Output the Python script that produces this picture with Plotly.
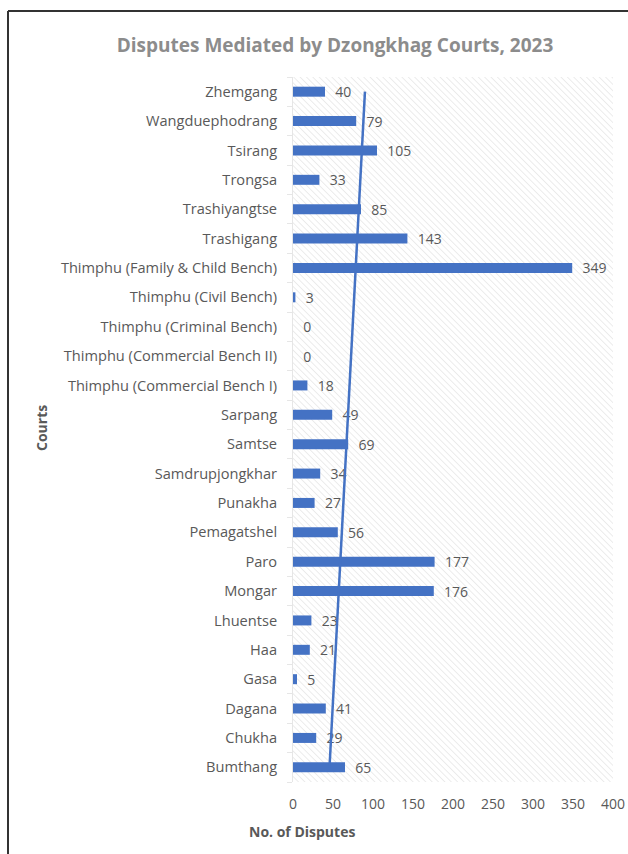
import base64
import numpy as np
import plotly.graph_objects as go

# Dzongkhag courts, listed bottom-to-top as they appear on the axis
courts = [
    "Bumthang", "Chukha", "Dagana", "Gasa", "Haa", "Lhuentse", "Mongar", "Paro",
    "Pemagatshel", "Punakha", "Samdrupjongkhar", "Samtse", "Sarpang",
    "Thimphu (Commercial Bench I)", "Thimphu (Commercial Bench II)",
    "Thimphu (Criminal Bench)", "Thimphu (Civil Bench)",
    "Thimphu (Family & Child Bench)", "Trashigang", "Trashiyangtse", "Trongsa",
    "Tsirang", "Wangduephodrang", "Zhemgang",
]
disputes = [65, 29, 41, 5, 21, 23, 176, 177, 56, 27, 34, 69, 49, 18, 0, 0, 3,
            349, 143, 85, 33, 105, 79, 40]
x_ticks = [0, 50, 100, 150, 200, 250, 300, 350, 400]

BLUE = "#4472C4"
TEXT = "#595959"
FONT = "Open Sans"

W, H = 628, 854
L, R, T, B = 293, 15, 77, 72

# linear trendline of disputes against court position
idx = np.arange(len(courts))
slope, intercept = np.polyfit(idx, disputes, 1)
trend = slope * idx + intercept

fig = go.Figure()
fig.add_trace(go.Bar(
    y=courts, x=disputes, orientation="h",
    marker=dict(color=BLUE, line=dict(width=0)),
    texttemplate="  %{x}", textposition="outside", cliponaxis=False,
    constraintext="none",
    textfont=dict(family=FONT, size=14, color=TEXT),
    hoverinfo="x+y", showlegend=False,
))
fig.add_trace(go.Scatter(
    y=courts, x=trend, mode="lines",
    line=dict(color=BLUE, width=2.5),
    hoverinfo="skip", showlegend=False,
))

# diagonal hatch fill behind the plotting area
pw, ph = W - L - R, H - T - B
svg = (
    f'<svg xmlns="http://www.w3.org/2000/svg" width="{pw}" height="{ph}">'
    '<defs><pattern id="h" width="4.5" height="4.5" patternUnits="userSpaceOnUse" '
    'patternTransform="rotate(-45)"><line x1="0" y1="0" x2="0" y2="4.5" '
    'stroke="#dddddd" stroke-width="1.1"/></pattern></defs>'
    '<rect width="100%" height="100%" fill="url(#h)"/></svg>'
)
hatch = "data:image/svg+xml;base64," + base64.b64encode(svg.encode()).decode()
fig.add_layout_image(dict(
    source=hatch, xref="paper", yref="paper", x=0, y=1,
    sizex=1, sizey=1, xanchor="left", yanchor="top",
    sizing="stretch", layer="below",
))

# outer frame (left and top edges)
fx = (8 - L) / pw
fy = 1 + (T - 11) / ph
fb = -(B + 5) / ph
fig.add_shape(type="line", xref="paper", yref="paper", x0=fx, x1=fx, y0=fb, y1=fy,
              line=dict(color="#333333", width=2))
fig.add_shape(type="line", xref="paper", yref="paper", x0=fx, x1=(W - L + 5) / pw,
              y0=fy, y1=fy, line=dict(color="#333333", width=2))

# axis titles
fig.add_annotation(text="<b>Courts</b>", xref="paper", yref="paper",
                   x=(42 - L) / pw, y=1 - (428 - T) / ph, textangle=-90,
                   xanchor="center", yanchor="middle",
                   showarrow=False, font=dict(family=FONT, size=14, color=TEXT))
fig.add_annotation(text="<b>No. of Disputes</b>", xref="paper", yref="paper",
                   x=(302 - L) / pw, y=-(831 - T - ph) / ph,
                   xanchor="center", yanchor="middle", showarrow=False,
                   font=dict(family=FONT, size=14, color=TEXT))

fig.update_layout(
    width=W, height=H,
    margin=dict(l=L, r=R, t=T, b=B, autoexpand=False),
    paper_bgcolor="white", plot_bgcolor="rgba(0,0,0,0)",
    bargap=0.66,
    title=dict(text="<b>Disputes Mediated by Dzongkhag Courts, 2023</b>",
               xref="container", yref="container", x=335 / W, y=1 - 45 / H,
               xanchor="center", yanchor="middle",
               font=dict(family=FONT, size=19, color="#8c8c8c")),
    xaxis=dict(range=[0, 400], tickvals=x_ticks, showgrid=False, zeroline=False,
               showline=False, ticks="", ticklabelstandoff=12, automargin=False,
               tickfont=dict(family=FONT, size=14, color=TEXT)),
    yaxis=dict(type="category", categoryorder="array", categoryarray=courts,
               range=[-0.5, len(courts) - 0.5], automargin=False,
               showgrid=False, zeroline=False, showline=True, linecolor="#e6e6e6",
               linewidth=1, ticks="outside", tickson="boundaries", ticklen=5,
               tickcolor="#e6e6e6", ticklabelstandoff=12,
               tickfont=dict(family=FONT, size=14.6, color=TEXT)),
    font=dict(family=FONT, color=TEXT),
)

fig.write_html("out.html")
